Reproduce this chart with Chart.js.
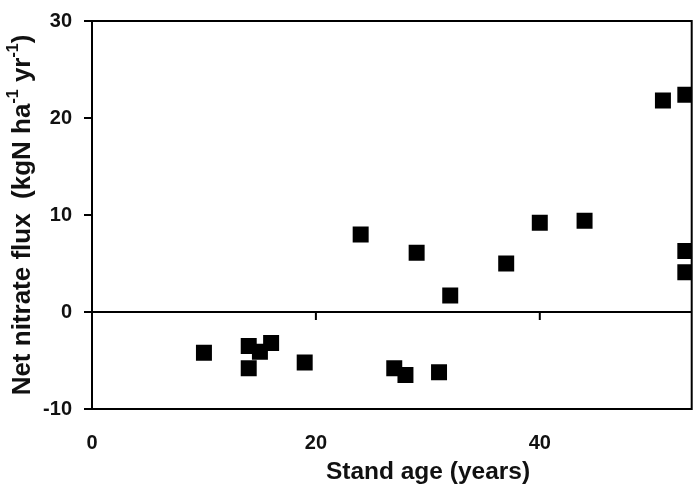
<!DOCTYPE html>
<html>
<head>
<meta charset="utf-8">
<script src="https://cdn.jsdelivr.net/npm/chart.js@4.4.0/dist/chart.umd.min.js"></script>
<style>
  html, body { margin: 0; padding: 0; background: #ffffff; overflow: hidden; }
  #wrap { width: 695px; height: 495px; overflow: hidden; position: relative; }
  #fluxChart { display: block; position: absolute; left: 0; top: -3px; }
</style>
</head>
<body>
<div id="wrap"><canvas id="fluxChart" width="703" height="498"></canvas></div>
<script>
// stand age (years) and net nitrate flux
const standAge = [10, 14, 14, 15, 16, 19, 27, 28, 31, 24, 29, 32, 37, 40, 44, 51, 53, 53, 53];
const nitrateFlux = [-4.2, -3.5, -5.8, -4.1, -3.2, -5.2, -5.8, -6.5, -6.2, 8.0, 6.1, 1.7, 5.0, 9.2, 9.4, 21.8, 22.4, 6.3, 4.1];
const xTicks = [0, 20, 40];
const yTicks = [-10, 0, 10, 20, 30];

const FONT = "'Liberation Sans', Arial, sans-serif";

const points = standAge.map((x, i) => ({ x: x, y: nitrateFlux[i] }));

// frame, zero line ticks and the axis titles (with superscripts)
const framePlugin = {
  id: 'framePlugin',
  afterDraw(chart) {
    const ctx = chart.ctx;
    const a = chart.chartArea;
    const xs = chart.scales.x;
    const ys = chart.scales.y;
    ctx.save();
    ctx.strokeStyle = '#000';
    ctx.lineWidth = 2;
    ctx.strokeRect(a.left, a.top, a.right - a.left, a.bottom - a.top);
    // tick marks hanging from the zero line
    const y0 = ys.getPixelForValue(0);
    ctx.beginPath();
    xTicks.forEach(v => {
      const px = xs.getPixelForValue(v);
      ctx.moveTo(px, y0);
      ctx.lineTo(px, y0 + 8);
    });
    ctx.stroke();

    ctx.fillStyle = '#111';
    ctx.textBaseline = 'middle';
    // x title
    ctx.font = 'bold 24.5px ' + FONT;
    ctx.textAlign = 'center';
    ctx.fillText('Stand age (years)', 428, a.bottom + 63);

    // y title, rotated
    const parts = [
      { t: 'Net nitrate flux  (kgN ha', sup: false },
      { t: '-1', sup: true },
      { t: ' yr', sup: false },
      { t: '-1', sup: true },
      { t: ')', sup: false }
    ];
    const big = 'bold 26px ' + FONT;
    const small = 'bold 16px ' + FONT;
    let total = 0;
    parts.forEach(p => {
      ctx.font = p.sup ? small : big;
      p.w = ctx.measureText(p.t).width;
      total += p.w;
    });
    ctx.translate(23, (a.top + a.bottom) / 2);
    ctx.rotate(-Math.PI / 2);
    ctx.textAlign = 'left';
    let cx = -total / 2;
    parts.forEach(p => {
      ctx.font = p.sup ? small : big;
      ctx.fillText(p.t, cx, p.sup ? -9 : 0);
      cx += p.w;
    });
    ctx.restore();
  }
};

new Chart(document.getElementById('fluxChart'), {
  type: 'scatter',
  data: {
    datasets: [{
      data: points,
      pointStyle: 'rect',
      pointRadius: 11.3,
      pointHoverRadius: 11.3,
      backgroundColor: '#000',
      borderColor: '#000',
      borderWidth: 0,
      clip: 0
    }]
  },
  options: {
    responsive: false,
    animation: false,
    layout: { padding: { top: 20, right: 3, left: 0, bottom: 0 } },
    plugins: {
      legend: { display: false },
      tooltip: { enabled: false }
    },
    scales: {
      x: {
        type: 'linear',
        min: 0,
        max: 53.57,
        afterBuildTicks: s => { s.ticks = xTicks.map(v => ({ value: v })); },
        afterFit: s => { s.height = 86; },
        grid: { display: true, color: 'transparent', drawTicks: false },
        border: { color: '#000', width: 2 },
        ticks: {
          padding: 22,
          color: '#111',
          font: { family: FONT, size: 20, weight: 'bold' },
          maxRotation: 0
        }
      },
      y: {
        min: -10,
        max: 30,
        afterBuildTicks: s => { s.ticks = yTicks.map(v => ({ value: v })); },
        afterFit: s => { s.width = 92; },
        grid: {
          color: c => (c.tick && c.tick.value === 0) ? '#000' : 'transparent',
          lineWidth: 2,
          tickColor: '#000',
          tickLength: 8
        },
        border: { color: '#000', width: 2 },
        ticks: {
          padding: 12,
          color: '#111',
          font: { family: FONT, size: 20, weight: 'bold' }
        }
      }
    }
  },
  plugins: [framePlugin]
});
</script>
</body>
</html>
